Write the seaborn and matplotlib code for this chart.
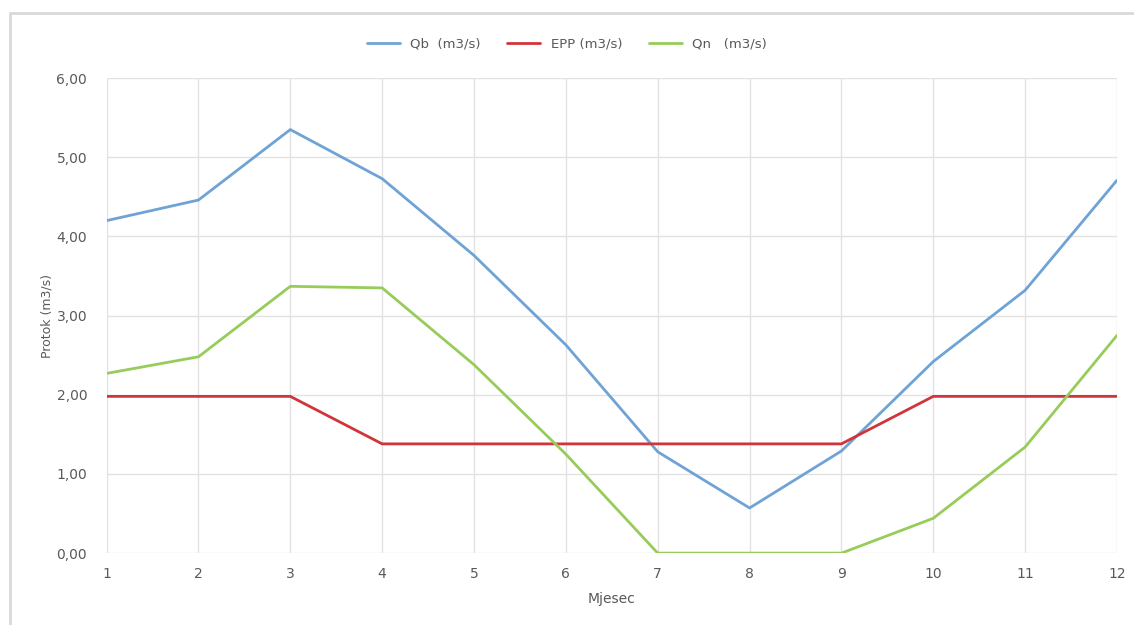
import pandas as pd
import seaborn as sns
import matplotlib.pyplot as plt
from matplotlib.patches import Rectangle

# mjesečne vrijednosti protoka (očitano s grafa)
mjesec = list(range(1, 13))
qb = [4.20, 4.46, 5.35, 4.73, 3.76, 2.63, 1.28, 0.57, 1.29, 2.42, 3.32, 4.71]
epp = [1.98, 1.98, 1.98, 1.38, 1.38, 1.38, 1.38, 1.38, 1.38, 1.98, 1.98, 1.98]
qn = [2.27, 2.48, 3.37, 3.35, 2.38, 1.25, 0.00, 0.00, 0.00, 0.44, 1.34, 2.75]

serije = ["Qb  (m3/s)", "EPP (m3/s)", "Qn   (m3/s)"]
boje = ["#6fa3d6", "#d0353b", "#98cc5a"]
y_ticks = [0, 1, 2, 3, 4, 5, 6]

df = pd.DataFrame({"Mjesec": mjesec, serije[0]: qb, serije[1]: epp, serije[2]: qn})
df = df.melt(id_vars="Mjesec", var_name="serija", value_name="protok")

sns.set_style("white")
plt.rcParams["font.family"] = ["DejaVu Sans"]

fig = plt.figure(figsize=(11.34, 6.25), dpi=100)
ax = fig.add_axes([0.094, 0.115, 0.891, 0.76])

sns.lineplot(data=df, x="Mjesec", y="protok", hue="serija", hue_order=serije,
             palette=boje, linewidth=2.0, ax=ax, legend=True)

ax.set_xlim(1, 12)
ax.set_ylim(0, 6)
ax.set_xticks(mjesec)
ax.set_yticks(y_ticks)
ax.set_yticklabels([f"{v:.2f}".replace(".", ",") for v in y_ticks])
ax.grid(True, color="#e2e2e2", linewidth=1)
for s in ax.spines.values():
    s.set_visible(False)
ax.tick_params(axis="both", length=0, colors="#595959", labelsize=10)
ax.tick_params(axis="x", pad=10)
ax.tick_params(axis="y", pad=14)
ax.set_xlabel("Mjesec", color="#595959", fontsize=10, labelpad=8)
ax.set_ylabel("Protok (m3/s)", color="#595959", fontsize=9, labelpad=2)

ax.legend(loc="center", bbox_to_anchor=(0.5, 0.93), bbox_transform=fig.transFigure,
          ncol=3, frameon=False, fontsize=9.5, handlelength=2.5, columnspacing=2.0,
          labelcolor="#595959")

fig.patches.append(Rectangle((0.009, -0.05), 1.2, 1.03, transform=fig.transFigure,
                             fill=False, edgecolor="#d9d9d9", linewidth=2))

fig.savefig("out.png", dpi=100)
